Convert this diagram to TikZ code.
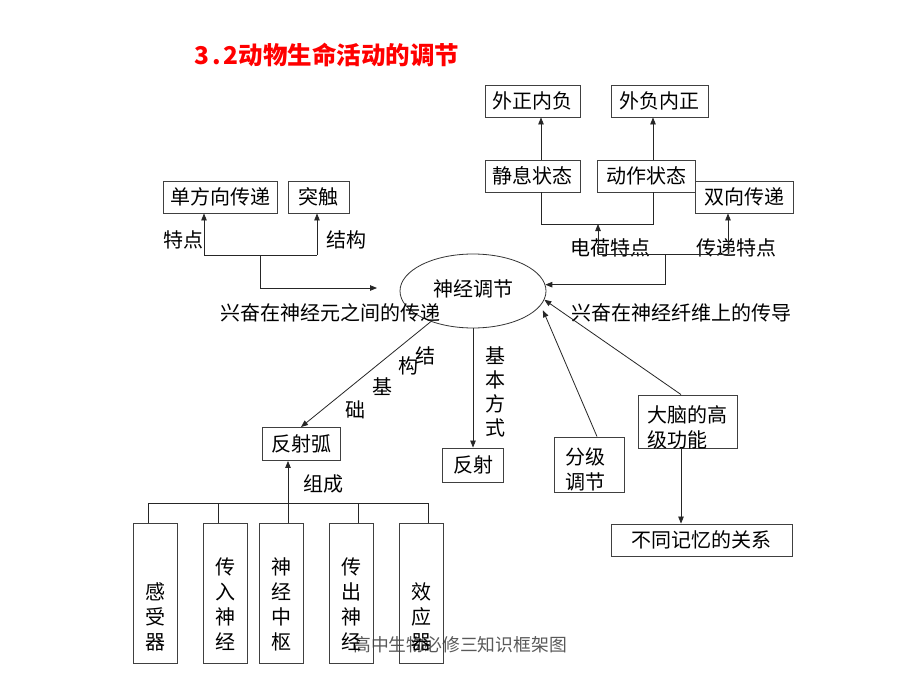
\documentclass[tikz,border=0pt]{standalone}
\usepackage{fontspec}
\setmainfont{Noto Sans CJK SC}
\usetikzlibrary{arrows.meta,shapes.geometric,calc}
\begin{document}
\begin{tikzpicture}[x=1pt,y=-1pt,
  every node/.style={font=\fontsize{20}{25}\selectfont, inner sep=0pt},
  box/.style={draw=black!75, line width=0.9pt, minimum height=32pt},
  vbox/.style={draw=black!75, line width=0.9pt, minimum width=44pt, minimum height=140pt},
  con/.style={draw=black!85, line width=0.8pt},
  arr/.style={con, -{Triangle[length=7pt,width=5.5pt]}},
]
\fill[white] (0,0) rectangle (920,690);
\useasboundingbox (0,0) rectangle (920,690);

% title and footer
\node[text=red, font=\fontsize{24.5}{28}\selectfont\bfseries] (title) at (327,55) {3\kern2.5pt.\kern3pt2动物生命活动的调节};
\node[text=black!65, font=\fontsize{17.8}{20}\selectfont] (foot) at (460,645) {高中生物必修三知识框架图};

% central ellipse
\node[draw=black!80, line width=0.8pt, ellipse, minimum width=146pt, minimum height=74pt] (sj) at (473,291) {\raisebox{5pt}{神经调节}};

% upper-left
\node[box, minimum width=114pt] (dan) at (220,197) {单方向传递};
\node[box, minimum width=61pt] (tuchu) at (318.5,197) {突触};
\node (tedian) at (183,240) {特点};
\node (jiegou) at (346,240) {结构};
\node (zhijian) at (330,313) {兴奋在神经元之间的传递};

% upper-right
\node[box, minimum width=95pt] (wzhn) at (532.5,101) {外正内负};
\node[box, minimum width=97pt] (wfnz) at (659.5,101) {外负内正};
\node[box, minimum width=95pt] (jx) at (532.5,176) {静息状态};
\node[box, minimum width=98pt] (dz) at (646,176) {动作状态};
\node[box, minimum width=98pt] (sx) at (744,197) {双向传递};
\node (dianhe) at (610,248) {电荷特点};
\node (chuandi) at (736,248) {传递特点};
\node (xianwei) at (681,313) {兴奋在神经纤维上的传导};

% lower middle
\node[box, minimum width=78pt, minimum height=33pt] (fsh) at (301,444) {反射弧};
\node[box, minimum width=61pt, minimum height=34pt] (fs) at (473,465) {反射};
\node (c1) at (425,356) {结};
\node (c2) at (408,366) {构};
\node (c3) at (382,387) {基};
\node (c4) at (355,410) {础};
\node[align=center, font=\fontsize{20}{24}\selectfont] (jbfs) at (495,392) {基\\本\\方\\式};
\node (zucheng) at (323,484) {组成};

% lower right
\node[draw=black!75, line width=0.9pt, minimum width=70pt, minimum height=55pt] (fenji) at (589,464.5) {\parbox[c][55pt][c]{48pt}{\vspace*{10pt}分级\\调节}};
\node[draw=black!75, line width=0.9pt, minimum width=99pt, minimum height=53pt] (danao) at (687.5,421.5) {\parbox[c][53pt][c]{80pt}{\vspace*{11pt}大脑的高\\级功能}};
\node[box, minimum width=181pt] (butong) at (701.5,540) {不同记忆的关系};

% reflex arc parts
\node[vbox] (b1) at (155,593) {\parbox[c][140pt][b]{44pt}{\centering 感\\受\\器\par\vspace{12pt}}};
\node[vbox] (b2) at (225,593) {\parbox[c][140pt][b]{44pt}{\centering 传\\入\\神\\经\par\vspace{12pt}}};
\node[vbox] (b3) at (281.5,593) {\parbox[c][140pt][b]{44pt}{\centering 神\\经\\中\\枢\par\vspace{12pt}}};
\node[vbox] (b4) at (351,593) {\parbox[c][140pt][b]{44pt}{\centering 传\\出\\神\\经\par\vspace{12pt}}};
\node[vbox] (b5) at (421.5,593) {\parbox[c][140pt][b]{44pt}{\centering 效\\应\\器\par\vspace{12pt}}};

% ---- connectors ----
% upper-left
\coordinate (ja) at (204,255);
\coordinate (jb) at (317,255);
\coordinate (jc) at (260,255);
\coordinate (tipL) at (377,288);
\draw[con] (ja) -- (jb);
\draw[arr] (ja) -- (ja |- dan.south);
\draw[arr] (jb) -- (jb |- tuchu.south);
\draw[arr] (jc) |- (tipL);

% upper-right
\coordinate (cA) at (541,0);
\coordinate (cB) at (653,0);
\coordinate (rowE) at (0,224);
\coordinate (cC) at (598,254);
\coordinate (cD) at (728,254);
\coordinate (cE) at (665,254);
\draw[arr] (cA |- jx.north) -- (cA |- wzhn.south);
\draw[arr] (cB |- dz.north) -- (cB |- wfnz.south);
\draw[con] (cA |- jx.south) |- (cB |- rowE) -- (cB |- dz.south);
\draw[arr] (cC) -- (cC |- rowE);
\draw[con] (cC) -- (cD);
\draw[arr] (cD) -- (cD |- sx.south);
\draw[arr] (cE) |- (sj.5);

% lower
\draw[arr] (sj.216) -- (fsh.north);
\draw[arr] (sj.south) -- (fs.north);
\coordinate (cG) at (597,0);
\coordinate (cF) at (681,0);
\draw[arr] (cG |- fenji.north) -- ([xshift=7pt]sj.343);
\draw[arr] (cF |- danao.north) -- (sj.353);
\draw[arr] (cF |- danao.south) -- (cF |- butong.north);

% tree
\coordinate (t1) at (148,503);
\coordinate (t2) at (218,503);
\coordinate (t3) at (288,503);
\coordinate (t4) at (358,503);
\coordinate (t5) at (428,503);
\draw[con] (t1) -- (t5);
\draw[con] (t1) -- (t1 |- b1.north);
\draw[con] (t2) -- (t2 |- b2.north);
\draw[con] (t4) -- (t4 |- b4.north);
\draw[con] (t5) -- (t5 |- b5.north);
\draw[arr] (t3 |- b3.north) -- (t3 |- fsh.south);
\end{tikzpicture}
\end{document}
